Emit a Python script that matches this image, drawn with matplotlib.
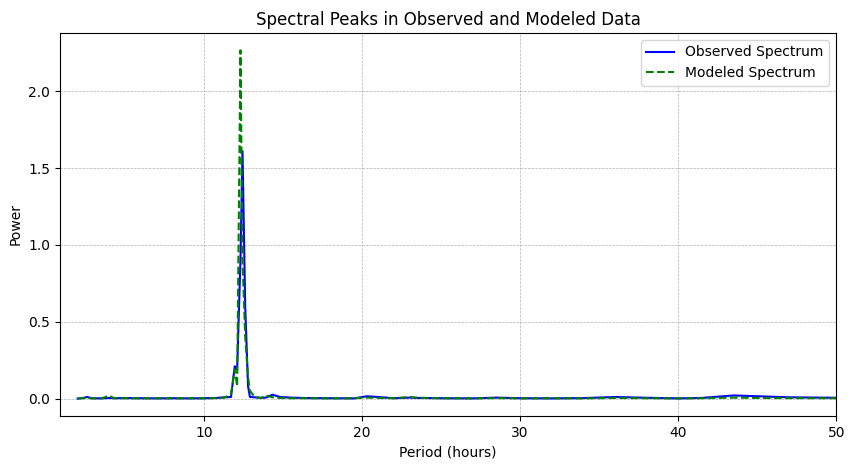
import numpy as np
import matplotlib.pyplot as plt

# period (hours) and spectral power
period = [2.0, 2.3, 2.6, 2.9, 3.5, 4.0, 4.3, 5.0, 6.0, 7.0, 8.0, 9.0, 10.0, 10.8,
          11.3, 11.7, 11.94, 12.09, 12.3, 12.43, 12.6, 12.78, 12.9, 13.2, 13.6,
          13.9, 14.33, 14.8, 15.5, 16.5, 18.0, 19.5, 20.3, 21.0, 22.0, 23.0, 23.5,
          25.0, 27.0, 28.5, 30.0, 32.0, 34.0, 36.0, 38.0, 40.0, 41.5, 43.5, 45.0,
          47.0, 50.0]
observed = [0.0, 0.003, 0.01, 0.002, 0.001, 0.004, 0.002, 0.003, 0.002, 0.001, 0.002,
            0.001, 0.002, 0.004, 0.008, 0.01, 0.21, 0.19, 0.9, 1.61, 0.6, 0.08, 0.01,
            0.008, 0.004, 0.006, 0.025, 0.01, 0.006, 0.003, 0.002, 0.001, 0.015, 0.01,
            0.002, 0.006, 0.004, 0.002, 0.001, 0.006, 0.002, 0.001, 0.003, 0.01, 0.005,
            0.001, 0.004, 0.02, 0.015, 0.008, 0.005]
modeled = [0.0, 0.002, 0.004, 0.001, 0.001, 0.018, 0.002, 0.002, 0.001, 0.002, 0.001,
           0.002, 0.001, 0.003, 0.006, 0.03, 0.19, 0.08, 2.266, 0.9, 0.4, 0.14, 0.05,
           0.01, 0.004, 0.02, 0.008, 0.004, 0.002, 0.002, 0.001, 0.002, 0.006, 0.004,
           0.002, 0.01, 0.005, 0.002, 0.001, 0.003, 0.001, 0.002, 0.001, 0.004, 0.002,
           0.001, 0.002, 0.006, 0.004, 0.003, 0.002]

fig, ax = plt.subplots(figsize=(8.55, 4.7), dpi=100)
fig.subplots_adjust(left=0.070, right=0.978, top=0.930, bottom=0.115)

ax.plot(period, observed, color='blue', label='Observed Spectrum')
ax.plot(period, modeled, color='green', linestyle='--', label='Modeled Spectrum')

ax.set_xlim(0.87, 50)
ax.set_xlabel('Period (hours)')
ax.set_ylabel('Power')
ax.set_title('Spectral Peaks in Observed and Modeled Data')
ax.grid(True, linestyle='--', linewidth=0.5)
ax.legend(loc='upper right')

fig.savefig('out.png', dpi=100)
